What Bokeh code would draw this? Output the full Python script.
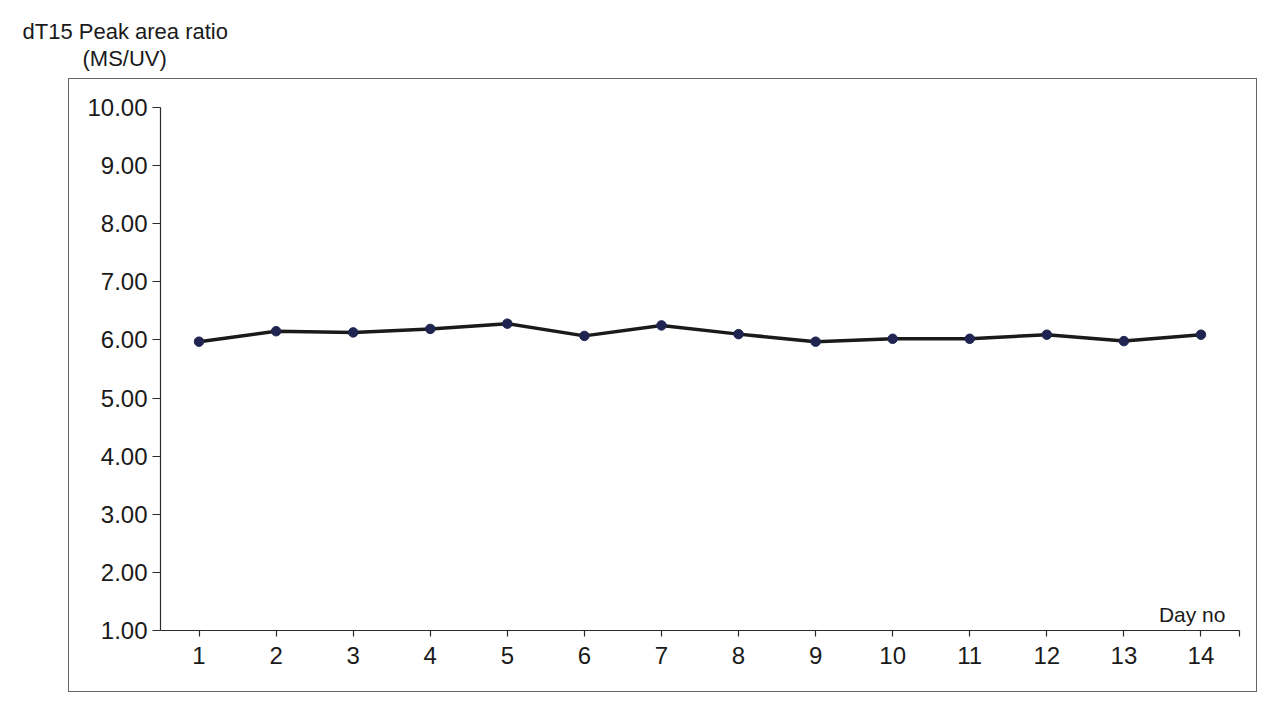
from bokeh.plotting import figure
from bokeh.models import (Range1d, FixedTicker, Label, Title, ColumnDataSource,
                          InlineStyleSheet)
from bokeh.embed import file_html
from bokeh.resources import INLINE

# ---- data ----
days = [1, 2, 3, 4, 5, 6, 7, 8, 9, 10, 11, 12, 13, 14]
ratio = [5.97, 6.15, 6.13, 6.19, 6.28, 6.07, 6.25, 6.10, 5.97, 6.02, 6.02, 6.09, 5.98, 6.09]
y_ticks = [1, 2, 3, 4, 5, 6, 7, 8, 9, 10]
x_ticks = days + [14.5]
y_title = ["dT15 Peak area ratio", "(MS/UV)"]
x_title = "Day no"

FONT = "Liberation Sans"

p = figure(width=1272, height=710, output_backend="svg", toolbar_location=None,
           x_range=Range1d(0.5, 14.5), y_range=Range1d(1, 10),
           min_border_left=160, min_border_right=33, min_border_top=107, min_border_bottom=80)
p.outline_line_color = None
p.xgrid.grid_line_color = None
p.ygrid.grid_line_color = None
p.background_fill_color = "white"
p.border_fill_color = "white"

# decorative outer box around the chart area
p.styles = {"position": "relative"}
p.stylesheets = [InlineStyleSheet(css="""
:host::after {
  content: "";
  position: absolute;
  left: 68px; top: 78px; width: 1189px; height: 614px;
  box-sizing: border-box;
  border: 1.6px solid #666666;
  pointer-events: none;
}
""")]

# axes
p.yaxis.ticker = FixedTicker(ticks=y_ticks)
p.yaxis.major_label_overrides = {t: f"{t:.2f}" for t in y_ticks}
p.xaxis.ticker = FixedTicker(ticks=x_ticks)
p.xaxis.major_label_overrides = {14.5: ""}
for ax in (p.xaxis[0], p.yaxis[0]):
    ax.axis_line_color = "#2a2a2a"
    ax.axis_line_width = 1.2
    ax.major_tick_line_color = "#2a2a2a"
    ax.major_tick_line_width = 1.2
    ax.major_tick_in = 0
    ax.minor_tick_line_color = None
    ax.major_label_text_font = FONT
    ax.major_label_text_color = "#1a1a1a"
p.yaxis.major_tick_out = 8
p.yaxis.major_label_text_font_size = "24px"
p.yaxis.major_label_standoff = 5
p.xaxis.major_tick_out = 6
p.xaxis.major_label_text_font_size = "24px"
p.xaxis.major_label_standoff = 10

# data
src = ColumnDataSource(dict(day=days, ratio=ratio))
p.line("day", "ratio", source=src, line_color="#1a1a1a", line_width=3.5)
p.scatter("day", "ratio", source=src, size=9.5, fill_color="#1f2550", line_color="#1f2550")

# y title: stacked above the chart (first added sits nearest the plot area)
p.add_layout(Title(text=" ", align="left", standoff=34, text_font_size="1px",
                   text_font=FONT), "above")  # spacing between box top and title
p.add_layout(Title(text=y_title[1], align="left", offset=-78, standoff=0,
                   text_font=FONT, text_font_size="22px", text_font_style="normal",
                   text_color="#1a1a1a"), "above")
p.add_layout(Title(text=y_title[0], align="left", offset=-138, standoff=0,
                   text_font=FONT, text_font_size="22px", text_font_style="normal",
                   text_color="#1a1a1a"), "above")

# x title inside plot area
p.add_layout(Label(x=14.318, y=1.275, text=x_title, text_align="right",
                   text_baseline="alphabetic", text_font=FONT, text_font_size="21px",
                   text_color="#1a1a1a"))

open("out.html", "w").write(file_html(p, INLINE))
